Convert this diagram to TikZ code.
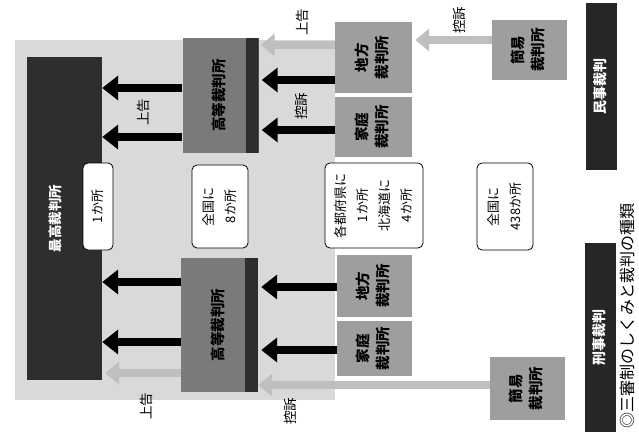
\documentclass[tikz,border=0pt]{standalone}
\usepackage{fontspec}
\setmainfont{Noto Sans CJK JP}
\usepackage{graphicx}
\usepackage{tikz}
\usetikzlibrary{arrows.meta,positioning,calc}
\newcommand{\turned}[1]{\rotatebox{90}{\begin{tabular}{@{}c@{}}#1\end{tabular}}}

\begin{document}
\begin{tikzpicture}[x=1pt, y=-1pt,
    court/.style={fill=black!38, inner sep=0pt, font=\fontsize{14.5}{20}\selectfont\bfseries},
    high/.style={court, fill=black!52, path picture={\fill[black!82] ([xshift=-13pt]path picture bounding box.north east) rectangle (path picture bounding box.south east);}},
    supreme/.style={fill=black!82, text=white, inner sep=0pt, font=\fontsize{13.5}{19}\selectfont\bfseries},
    infobox/.style={draw, fill=white, rounded corners=5pt, line width=0.8pt, inner sep=0pt, font=\fontsize{13}{22}\selectfont},
    tagbox/.style={fill=black!85, text=white, inner sep=0pt, font=\fontsize{14}{16}\selectfont\bfseries},
    lbl/.style={font=\fontsize{13.5}{15}\selectfont, inner sep=1pt},
    appeal/.style={-{Triangle[length=16pt,width=24pt]}, line width=8pt},
    grayappeal/.style={-{Triangle[length=14pt,width=22pt]}, line width=8pt, draw=black!25},
]
    \fill[white] (0,0) rectangle (639,439);
    \useasboundingbox (0,0) rectangle (639,439);
    \fill[black!15] (15,40) rectangle (335,400);

    % courts
    \node[supreme, minimum width=75pt, minimum height=323pt] (supreme) at (64.5,218.5) {\turned{最高裁判所}\hspace*{16pt}};
    \node[high, minimum width=76pt, minimum height=115pt] (high1) at (220.5,95.5) {\turned{高等裁判所}};
    \node[high, minimum width=77pt, minimum height=134pt] (high2) at (219.5,325) {\turned{高等裁判所}};
    \node[court, minimum width=77pt, minimum height=71pt] (dist1) at (373.5,57.5) {\turned{地方\\裁判所}};
    \node[court, minimum width=77pt, minimum height=60pt] (fam1) at (373.5,127) {\turned{家庭\\裁判所}};
    \node[court, minimum width=75pt, minimum height=62pt] (dist2) at (374.5,286) {\turned{地方\\裁判所}};
    \node[court, minimum width=75pt, minimum height=55pt] (fam2) at (374.5,348.5) {\turned{家庭\\裁判所}};
    \node[court, minimum width=75pt, minimum height=60pt] (summ1) at (529.5,50) {\turned{簡易\\裁判所}};
    \node[court, minimum width=75pt, minimum height=63pt] (summ2) at (527.5,388.5) {\turned{簡易\\裁判所}};

    % how many of each
    \node[infobox, minimum width=30pt, minimum height=87pt] (one) at (98,206.5) {\turned{1か所}};
    \node[infobox, minimum width=56pt, minimum height=83pt] (eight) at (220,206.5) {\turned{全国に\\8か所}};
    \node[infobox, minimum width=98pt, minimum height=85pt] (pref) at (374,205.5) {\turned{各都府県に\\1か所\\北海道に\\4か所}};
    \node[infobox, minimum width=56pt, minimum height=87pt] (many) at (505,206.5) {\turned{全国に\\438か所}};

    \node[tagbox, minimum width=31pt, minimum height=167pt] (civil) at (601.5,86.5) {\turned{民事裁判}};
    \node[tagbox, minimum width=31pt, minimum height=189pt] (criminal) at (600.5,337.5) {\turned{刑事裁判}};
    \node[inner sep=0pt, font=\fontsize{16}{18}\selectfont] (title) at (629,316) {\turned{◎三審制のしくみと裁判の種類}};

    % appeals
    \foreach \dy in {-7.5,41.5}
        \draw[appeal] ($(high1.west)+(0,\dy)$) -- ($(supreme.east |- high1.west)+(0,\dy)$);
    \foreach \dy in {-43,17}
        \draw[appeal] ($(high2.west)+(0,\dy)$) -- ($(supreme.east |- high2.west)+(0,\dy)$);
    \draw[appeal, shorten >=3pt] ($(dist1.west)+(0,22.5)$) -- ($(high1.east |- dist1.west)+(0,22.5)$);
    \draw[appeal, shorten >=3pt] ($(fam1.west)+(0,3)$) -- ($(high1.east |- fam1.west)+(0,3)$);
    \draw[appeal, shorten >=3pt] ($(dist2.west)+(0,1)$) -- ($(high2.east |- dist2.west)+(0,1)$);
    \draw[appeal, shorten >=3pt] ($(fam2.west)+(0,1.5)$) -- ($(high2.east |- fam2.west)+(0,1.5)$);

    \draw[grayappeal, shorten >=3pt] ($(summ1.west)+(0,-10)$) -- ($(dist1.east |- summ1.west)+(0,-10)$);
    \draw[grayappeal, shorten >=2pt] ($(dist1.west)+(0,-12.5)$) -- ($(high1.east |- dist1.west)+(0,-12.5)$);
    \draw[grayappeal] ($(summ2.west)+(0,-3.5)$) -- ($(high2.east |- summ2.west)+(0,-3.5)$);
    \draw[grayappeal, shorten >=3pt] ($(high2.west)+(0,48)$) -- ($(supreme.east |- high2.west)+(0,48)$);

    \node[lbl] (l1) at (145,112) {\turned{上告}};
    \node[lbl] (l2) at (303,106) {\turned{控訴}};
    \node[lbl] (l3) at (304,22) {\turned{上告}};
    \node[lbl] (l4) at (461,20) {\turned{控訴}};
    \node[lbl] (l5) at (148,406) {\turned{上告}};
    \node[lbl] (l6) at (292,411) {\turned{控訴}};
\end{tikzpicture}
\end{document}
